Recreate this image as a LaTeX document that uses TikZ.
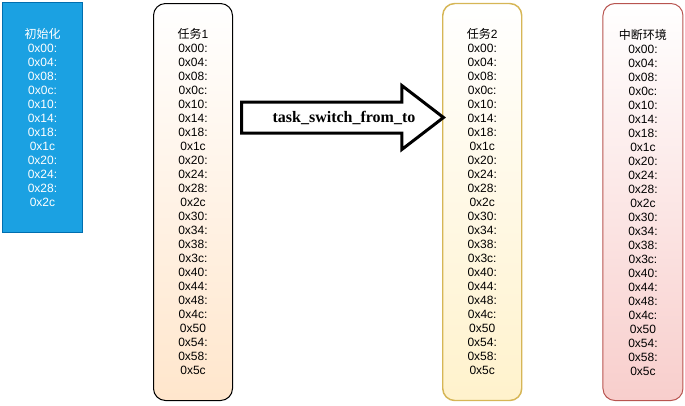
\documentclass[tikz,border=0pt]{standalone}
\usepackage{fontspec}
\setmainfont{Liberation Sans}
\newfontfamily\cjk{Noto Sans CJK SC}
\newfontfamily\arrowfont{Liberation Serif}
\usetikzlibrary{positioning, shapes.arrows, calc}
\definecolor{initfill}{HTML}{1BA1E2}
\definecolor{initline}{HTML}{006EAF}
\definecolor{orangefill}{HTML}{FFE6CC}
\definecolor{yellowfill}{HTML}{FFF2CC}
\definecolor{yellowline}{HTML}{D6B656}
\definecolor{redfill}{HTML}{F8CECC}
\definecolor{redline}{HTML}{B85450}

\newcommand{\initregs}{0x00:\\0x04:\\0x08:\\0x0c:\\0x10:\\0x14:\\0x18:\\0x1c\\0x20:\\0x24:\\0x28:\\0x2c}
\newcommand{\taskregs}{\initregs\\0x30:\\0x34:\\0x38:\\0x3c:\\0x40:\\0x44:\\0x48:\\0x4c:\\0x50\\0x54:\\0x58:\\0x5c}

\tikzset{
  stack/.style={draw, rounded corners=9pt, line width=0.75pt, minimum width=59.25pt,
    minimum height=297.75pt, inner sep=0pt, align=center,
    font=\fontsize{9}{10.5}\selectfont, top color=white},
}

\begin{document}
\begin{tikzpicture}[x=0.75pt, y=-0.75pt]
\useasboundingbox (0,0) rectangle (685,405);

\node (init) [draw=initline, fill=initfill, text=white, line width=0.75pt, minimum width=60pt,
  minimum height=172.5pt, inner sep=0pt, align=center, font=\fontsize{9}{10.5}\selectfont,
  anchor=north west] at (2,2) {{\cjk 初始化}\\\initregs};
\node (task1) [stack, bottom color=orangefill, draw=black, anchor=north west] at (153,3) {{\cjk 任务}1\\\taskregs};
\node (task2) [stack, bottom color=yellowfill, draw=yellowline, line width=1.1pt,
  right=156.75pt of task1] {{\cjk 任务}2\\\taskregs};
\node (irq) [stack, bottom color=redfill, draw=redline, minimum width=60pt,
  right=60pt of task2] {{\cjk 中断环境}\\\taskregs};

% switch arrow
\node (sw) [single arrow, draw, line width=2.25pt, fill=white, single arrow tip angle=75,
  single arrow head extend=12.4pt, minimum height=151.5pt, text height=8pt, text depth=2pt,
  inner ysep=5.5pt, anchor=tail] at (240,117.5) {};
\node (swtext) [font=\arrowfont\bfseries\fontsize{12}{14}\selectfont, xshift=0.75pt]
  at ($(sw.tail)!0.5!(sw.tip)$) {task\_switch\_from\_to};
\end{tikzpicture}
\end{document}
